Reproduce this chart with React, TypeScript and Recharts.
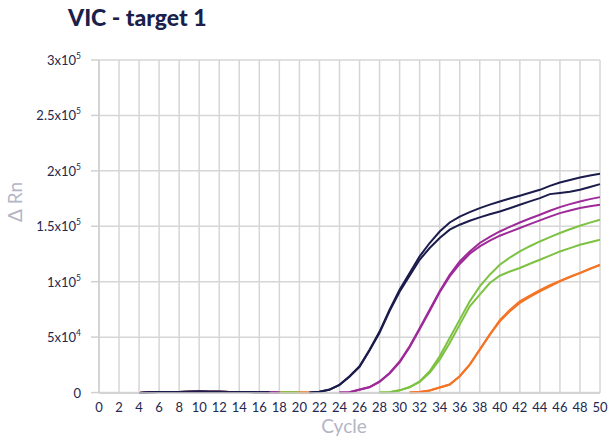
import { LineChart, Line, XAxis, YAxis, CartesianGrid } from "recharts"

// cycle 0..50, null = no reading drawn
const cycles = [
  0, 1, 2, 3, 4, 5, 6, 7, 8, 9, 10, 11, 12, 13, 14, 15, 16, 17, 18, 19, 20, 21, 22, 23, 24, 25,
  26, 27, 28, 29, 30, 31, 32, 33, 34, 35, 36, 37, 38, 39, 40, 41, 42, 43, 44, 45, 46, 47, 48, 49, 50,
]

const navy1 = [
  null, null, null, null, -400, 200, 400, 500, 600, 800, 900, 800, 700, 600, 500, 400, 300, 200, null, null, null,
  0, 800, 2700, 7000, 14700, 23700, 38700, 55000, 74800, 92800, 107800, 122800, 134900, 145300, 153400,
  158800, 162800, 166400, 169500, 172400, 175000, 177500, 180200, 182900, 186500, 189500, 191800, 194000, 195800, 197300,
]
const navy2 = [
  null, null, null, null, -400, 200, 400, 500, 600, 800, 900, 800, 700, 600, 500, 400, 300, 200, null, null, null,
  0, 800, 2600, 6800, 14300, 23200, 38000, 54000, 73500, 91000, 105500, 119800, 130400, 139400, 146900,
  151400, 155000, 158000, 160800, 163400, 166300, 169400, 172500, 175400, 179000, 180000, 181200, 182900, 185500, 188000,
]
const purple1 = [
  null, null, null, null, -400, 200, 400, 500, 600, 800, 900, 800, 700, 600, 500, 400, 300, 200, 100, null, null,
  null, null, null, 0, 300, 2700, 5000, 10000, 17700, 28000, 41700, 58000, 74800, 91300, 106300,
  118300, 127300, 134900, 140500, 145300, 149500, 153400, 157000, 160400, 164000, 167300, 170000, 172400, 174500, 176300,
]
const purple2 = [
  null, null, null, null, -400, 200, 400, 500, 600, 800, 900, 800, 700, 600, 500, 400, 300, 200, 100, null, null,
  null, null, null, 0, 300, 2600, 4800, 9600, 17200, 27300, 40800, 57000, 73500, 90500, 104800,
  116000, 125200, 131800, 137000, 141500, 145000, 148400, 152000, 155300, 158700, 161900, 164300, 166400, 168000, 169400,
]
const green1 = [
  null, null, null, null, -400, 200, 400, 500, 600, 800, 900, 800, 700, 600, 500, 400, 300, 200, 100, 0, 0,
  null, null, null, null, null, null, null, 0, 300, 2000, 5000, 10000, 19200, 32700, 49200,
  65800, 82300, 95800, 106300, 115300, 121800, 127300, 132000, 136300, 140200, 143900, 147300, 150500, 153300, 155900,
]
const green2 = [
  null, null, null, null, -400, 200, 400, 500, 600, 800, 900, 800, 700, 600, 500, 400, 300, 200, 100, 0, 0,
  null, null, null, null, null, null, null, 0, 300, 2000, 4800, 9500, 17700, 29700, 44700,
  61300, 77800, 88300, 98800, 105400, 109200, 112400, 116200, 119800, 123500, 127300, 130300, 133300, 135600, 137800,
]
const orange1 = [
  null, null, null, null, -400, 200, 400, 500, 600, 800, 900, 800, 700, 600, 500, 400, 300, 200, 100, 0, 0,
  0, null, null, null, null, null, null, null, null, null, 0, 500, 1800, 4500, 7200,
  14700, 25200, 38700, 52300, 64300, 73300, 80800, 86200, 91300, 95800, 100300, 104200, 107800, 111600, 115300,
]
const orange2 = [
  null, null, null, null, -400, 200, 400, 500, 600, 800, 900, 800, 700, 600, 500, 400, 300, 200, 100, 0, 0,
  0, null, null, null, null, null, null, null, null, null, 0, 500, 1800, 4500, 7200,
  14700, 25200, 38700, 52300, 65300, 74600, 82300, 87500, 92500, 96800, 100800, 104500, 108000, 111700, 115000,
]

const xTicks = [0, 2, 4, 6, 8, 10, 12, 14, 16, 18, 20, 22, 24, 26, 28, 30, 32, 34, 36, 38, 40, 42, 44, 46, 48, 50]
const yTicks = [0, 50000, 100000, 150000, 200000, 250000, 300000]
// [mantissa, exponent] for each y tick label
const yTickLabels: Array<[string, string]> = [
  ["0", ""],
  ["5x10", "4"],
  ["1x10", "5"],
  ["1.5x10", "5"],
  ["2x10", "5"],
  ["2.5x10", "5"],
  ["3x10", "5"],
]

const data = cycles.map((c, i) => ({
  cycle: c,
  n1: navy1[i],
  n2: navy2[i],
  p1: purple1[i],
  p2: purple2[i],
  g1: green1[i],
  g2: green2[i],
  o1: orange1[i],
  o2: orange2[i],
}))

const NAVY = "#1b1c4b"
const PURPLE = "#9e2a99"
const GREEN = "#7dc242"
const ORANGE = "#f47426"
const FONT = "Lato, 'Open Sans', sans-serif"
const TEXT = "#24274f"

function YTick(props: any) {
  const { x, y, payload } = props
  const idx = yTicks.indexOf(payload.value)
  const [m, e] = yTickLabels[idx] || [String(payload.value), ""]
  return (
    <text x={x - 8} y={y + 5} textAnchor="end" fontSize={13} fill={TEXT} fontFamily={FONT}>
      {m}
      {e && (
        <tspan dy={-6} fontSize={8.5}>
          {e}
        </tspan>
      )}
    </text>
  )
}

export default function App() {
  const series: Array<[string, string]> = [
    ["o1", ORANGE],
    ["o2", ORANGE],
    ["g1", GREEN],
    ["g2", GREEN],
    ["p1", PURPLE],
    ["p2", PURPLE],
    ["n1", NAVY],
    ["n2", NAVY],
  ]
  return (
    <div style={{ position: "absolute", left: 0, top: 0, width: 609, height: 441, background: "#fff", fontFamily: FONT }}>
      <div style={{ position: "absolute", left: 68, top: 3, fontSize: 23, fontWeight: 900, color: "#1b1f4b" }}>
        VIC - target 1
      </div>
      <div
        style={{
          position: "absolute",
          left: -15,
          top: 191,
          width: 60,
          lineHeight: "22px",
          textAlign: "center",
          transform: "rotate(-90deg)",
          fontSize: 19,
          color: "#b4b5c6",
        }}
      >
        Δ Rn
      </div>
      <div style={{ position: "absolute", left: 294, top: 414, width: 100, textAlign: "center", fontSize: 19, color: "#b4b5c6" }}>
        Cycle
      </div>
      <LineChart width={609} height={441} data={data} margin={{ top: 60, right: 9, left: 9, bottom: 23 }}>
        <CartesianGrid stroke="#d6d6d6" strokeWidth={1.5} />
        <XAxis
          dataKey="cycle"
          type="number"
          domain={[0, 50]}
          ticks={xTicks}
          interval={0}
          height={25}
          tickLine={false}
          axisLine={{ stroke: "#d0d0d0", strokeWidth: 1.5 }}
          tick={{ fontSize: 13, fill: TEXT, fontFamily: FONT }}
          tickMargin={4}
        />
        <YAxis
          type="number"
          domain={[0, 300000]}
          ticks={yTicks}
          interval={0}
          width={90}
          tickSize={8}
          tickLine={{ stroke: "#d0d0d0", strokeWidth: 1.5 }}
          axisLine={{ stroke: "#d0d0d0", strokeWidth: 1.5 }}
          tick={<YTick />}
        />
        {series.map(([key, color]) => (
          <Line
            key={key}
            dataKey={key}
            stroke={color}
            strokeWidth={2}
            dot={false}
            type="linear"
            isAnimationActive={false}
            connectNulls={false}
          />
        ))}
      </LineChart>
    </div>
  )
}
